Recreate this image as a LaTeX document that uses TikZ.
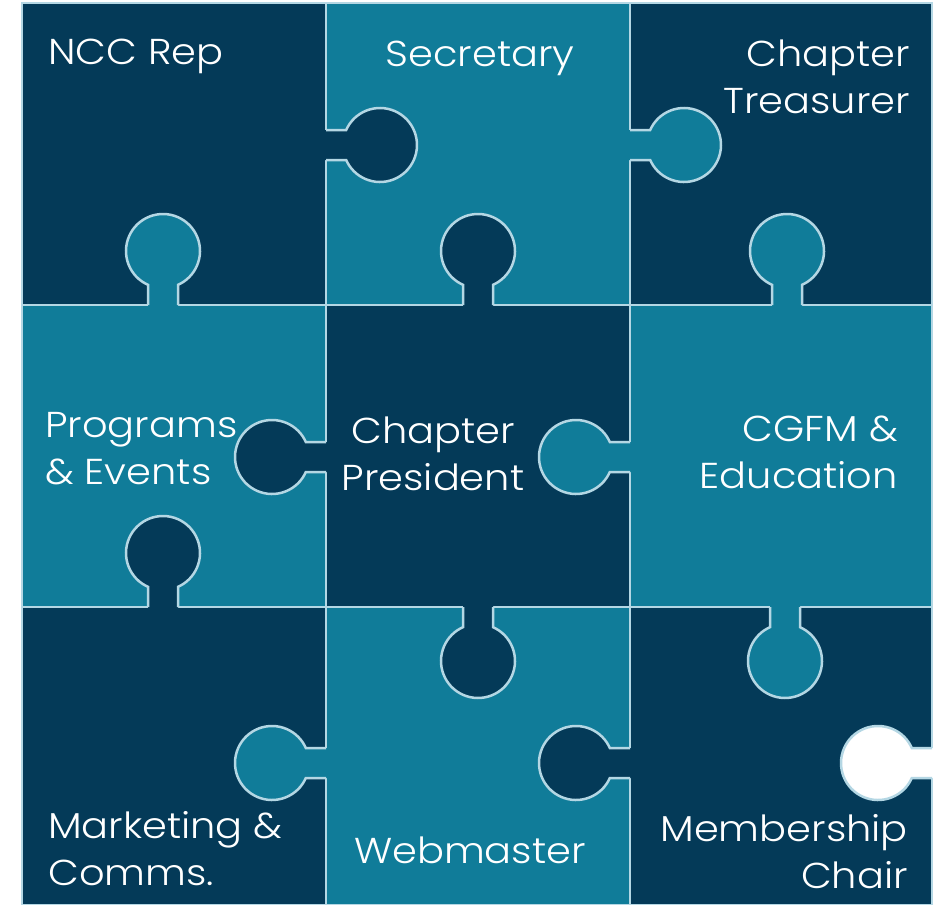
\documentclass[tikz,border=0pt]{standalone}
\usepackage{fontspec}
\setmainfont{Poppins}[UprightFont=* Light, FakeStretch=1.11]
\definecolor{navy}{HTML}{043A58}
\definecolor{petrol}{HTML}{107C99}
\definecolor{seamblue}{HTML}{B4D7E4}
\tikzset{
  seam/.style={draw=seamblue, line width=2.5pt},
  role/.style={text=white, inner sep=0pt, font=\fontsize{36}{47}\selectfont},
}
% one tab: boundary point, direction, colour
\newcommand{\puzzletab}[4]{%
  \begin{scope}[shift={(#1,#2)}, rotate=#3]
    \fill[#4] (-3,-15) -- (20.17,-15) arc[start angle=203.92, end angle=516.08, radius=37] -- (-3,15) -- cycle;
    \draw[seam] (0,-15) -- (20.17,-15) arc[start angle=203.92, end angle=516.08, radius=37] -- (0,15);
  \end{scope}}
\begin{document}
\begin{tikzpicture}[x=1pt, y=-1pt]
\useasboundingbox (0,0) rectangle (940,905);
%
\foreach \xa/\xb/\ya/\yb/\c in {22/326/3/305/navy, 326/630/3/305/petrol, 630/932/3/305/navy,
    22/326/305/607/petrol, 326/630/305/607/navy, 630/932/305/607/petrol,
    22/326/607/905/navy, 326/630/607/905/petrol, 630/932/607/905/navy}
  \filldraw[seam, fill=\c] (\xa,\ya) rectangle (\xb,\yb);
%
\foreach \x/\y/\a/\c in {326/145/0/navy, 630/145/0/petrol, 163/305/90/petrol, 478/305/90/navy,
    787/305/90/petrol, 326/457/180/navy, 630/457/180/petrol, 163/607/90/navy, 478/607/-90/navy,
    785/607/-90/petrol, 326/763/180/petrol, 630/763/180/navy, 932/763/180/white}
  {\puzzletab{\x}{\y}{\a}{\c}}
%
\node[role, anchor=base west] (ncc) at (48,64) {NCC Rep};
\node[role, anchor=base] (sec) at (480,66) {Secretary};
\node[role, anchor=base east, align=right] (treas) at (910,113) {Chapter\\Treasurer};
\node[role, anchor=base west, align=left] (prog) at (45,484) {Programs\\\& Events};
\node[role, anchor=base, align=center] (pres) at (433,490) {Chapter\\President};
\node[role, anchor=base east, align=right] (cgfm) at (898,488) {CGFM \&\\Education};
\node[role, anchor=base west, align=left] (mkt) at (48,885) {Marketing \&\\Comms.};
\node[role, anchor=base] (web) at (470,863) {Webmaster};
\node[role, anchor=base east, align=right] (memb) at (908,888) {Membership\\Chair};
\end{tikzpicture}
\end{document}
